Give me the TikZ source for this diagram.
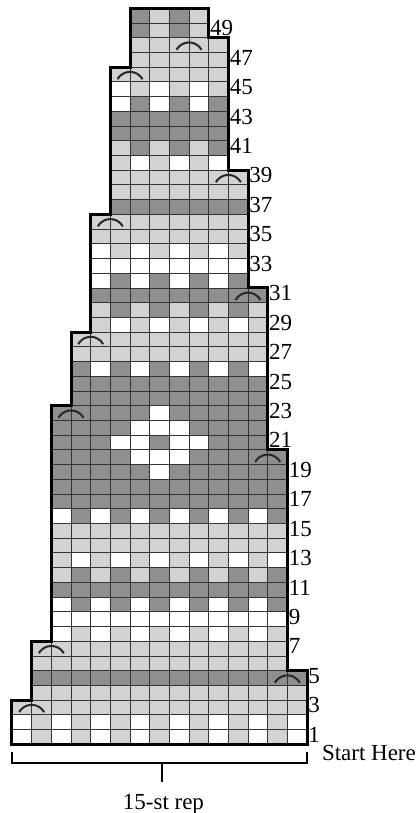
\documentclass[tikz,border=0pt]{standalone}
\usepackage{fontspec}
\setmainfont{Liberation Serif}
\definecolor{chartlt}{RGB}{209,210,212}
\definecolor{chartdk}{RGB}{142,143,145}
\tikzset{
  rowlbl/.style={anchor=base west,inner sep=0pt,xshift=1.2pt,yshift=2pt,
    font=\fontsize{23}{25}\selectfont},
  caption/.style={inner sep=0pt,font=\fontsize{23}{25}\selectfont},
  decarc/.style={line width=2pt,black!85},
  brace/.style={line width=1.8pt}
}

\begin{document}
\begin{tikzpicture}[x=19.67pt,y=14.72pt]
  \useasboundingbox (-0.61,-4.667) rectangle (20.742,50.564);
  % row/first st/last st/odd st/even st
  \foreach \r/\a/\b/\co/\ce in {%
    1/1/15/white/chartlt, 2/1/15/white/chartlt, 3/1/15/chartlt/chartlt,
    4/2/15/chartlt/chartlt, 5/2/15/chartdk/chartdk,
    6/2/14/chartlt/chartlt, 7/2/14/chartlt/chartlt,
    8/3/14/white/chartlt, 9/3/14/white/white, 10/3/14/white/chartdk,
    11/3/14/chartdk/chartdk, 12/3/14/chartlt/chartdk, 13/3/14/chartlt/white,
    14/3/14/chartlt/chartlt, 15/3/14/chartlt/chartlt, 16/3/14/white/chartdk,
    17/3/14/chartdk/chartdk, 18/3/14/chartdk/chartdk, 19/3/14/chartdk/chartdk,
    20/3/14/chartdk/chartdk,
    21/3/13/chartdk/chartdk, 22/3/13/chartdk/chartdk, 23/3/13/chartdk/chartdk,
    24/4/13/chartdk/chartdk, 25/4/13/chartdk/chartdk, 26/4/13/white/chartdk,
    27/4/13/chartlt/chartlt, 28/4/13/chartlt/chartlt,
    29/5/13/chartlt/white, 30/5/13/chartlt/chartdk, 31/5/13/chartdk/chartdk,
    32/5/12/white/chartdk, 33/5/12/white/white, 34/5/12/white/chartlt,
    35/5/12/chartlt/chartlt, 36/5/12/chartlt/chartlt,
    37/6/12/chartdk/chartdk, 38/6/12/chartlt/chartlt, 39/6/12/chartlt/chartlt,
    40/6/11/white/chartlt, 41/6/11/chartdk/chartlt, 42/6/11/chartdk/chartdk,
    43/6/11/chartdk/chartdk, 44/6/11/chartdk/white, 45/6/11/chartlt/white,
    46/6/11/chartlt/chartlt,
    47/7/11/chartlt/chartlt, 48/7/11/chartlt/chartlt,
    49/7/10/chartdk/chartlt, 50/7/10/chartdk/chartlt}
  {
    \fill[\ce] (\a-1,\r-1) rectangle (\b,\r);
    \foreach \c in {\a,...,\b} {
      \ifodd\c\relax \fill[\co] (\c-1,\r-1) rectangle (\c,\r); \fi
    }
  }
  % white motif
  \foreach \c/\r in {8/19, 7/20, 8/20, 9/20, 6/21, 7/21, 9/21, 10/21,
                     7/22, 8/22, 9/22, 8/23}
    \fill[white] (\c-1,\r-1) rectangle (\c,\r);
  \begin{scope}
    \clip (0,0) -- (15,0) -- (15,5) -- (14,5) -- (14,20) -- (13,20) -- (13,31)
      -- (12,31) -- (12,39) -- (11,39) -- (11,48) -- (10,48) -- (10,50)
      -- (6,50) -- (6,46) -- (5,46) -- (5,36) -- (4,36) -- (4,28) -- (3,28)
      -- (3,23) -- (2,23) -- (2,7) -- (1,7) -- (1,3) -- (0,3) -- cycle;
    \draw[black!80,line width=0.9pt,xstep=1,ystep=1] (0,0) grid (15,50);
  \end{scope}
  \draw[line width=3pt] (0,0) -- (15,0) -- (15,5) -- (14,5) -- (14,20) -- (13,20)
    -- (13,31) -- (12,31) -- (12,39) -- (11,39) -- (11,48) -- (10,48) -- (10,50)
    -- (6,50) -- (6,46) -- (5,46) -- (5,36) -- (4,36) -- (4,28) -- (3,28)
    -- (3,23) -- (2,23) -- (2,7) -- (1,7) -- (1,3) -- (0,3) -- cycle;
  % decreases
  \foreach \x/\r in {1/3, 2/7, 3/23, 4/28, 5/36, 6/46, 14/5, 13/20, 12/31, 11/39, 9/48}
    \draw[decarc] ([xshift=-12.5pt,yshift=2.7pt]\x,\r-1)
      arc[start angle=150.6,end angle=29.4,radius=14.35pt];
  % row numbers
  \foreach \r/\x in {1/15, 3/15, 5/15, 7/14, 9/14, 11/14, 13/14, 15/14, 17/14,
                     19/14, 21/13, 23/13, 25/13, 27/13, 29/13, 31/13, 33/12,
                     35/12, 37/12, 39/12, 41/11, 43/11, 45/11, 47/11, 49/10}
    \node[rowlbl] (row\r) at (\x,\r-1) {\r};
  % repeat bracket
  \coordinate (brl) at (0,-0.5);
  \coordinate (brr) at (15,-0.5);
  \coordinate (brm) at (7.64,-1.29);
  \draw[brace] (brl) -- (0,-1.29) -- (15,-1.29) -- (brr);
  \draw[brace] (brm) -- ++(0,-1.25);
  \node[caption,anchor=base west] (start) at (15.75,-1.13) {Start Here};
  \node[caption,anchor=base] (rep) at (7.7,-4.4) {15-st rep};
\end{tikzpicture}
\end{document}
